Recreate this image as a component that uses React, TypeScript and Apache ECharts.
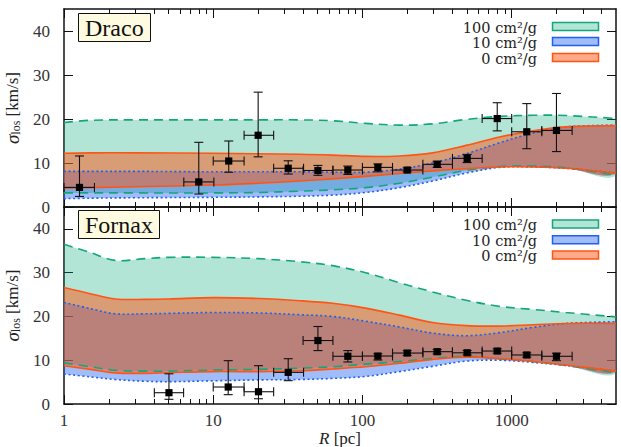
import React, { useEffect, useRef } from 'react';
import * as echarts from 'echarts';

const FONT = '"Liberation Serif", "DejaVu Serif", serif';
const LEGEND_FONT = '"DejaVu Serif", "Liberation Serif", serif';

// ---------- Data ----------
// Radius grid for the model bands [pc]
const R_DRACO = [1, 1.5, 3, 10, 20, 38, 63, 105, 177, 295, 495, 830, 1390, 2300, 5000];
const DRACO_100_LO = [3.2, 3.2, 3.2, 3.2, 3.3, 3.6, 3.9, 4.4, 5.4, 6.8, 8.3, 9.2, 9.3, 8.9, 7.2];
const DRACO_100_HI = [19.2, 19.7, 19.8, 19.8, 19.8, 19.8, 19.6, 19.0, 18.6, 18.9, 19.9, 20.6, 20.85, 20.8, 20.1];
const DRACO_10_LO = [1.9, 2.0, 2.1, 2.2, 2.3, 2.45, 2.7, 3.3, 4.4, 5.9, 7.7, 9.0, 9.1, 8.8, 7.7];
const DRACO_10_HI = [8.1, 8.1, 8.1, 8.0, 8.0, 8.0, 7.9, 7.9, 8.6, 10.0, 12.1, 14.6, 16.8, 18.2, 18.6];
const DRACO_0_LO = [4.3, 4.4, 4.6, 5.0, 5.4, 5.9, 6.4, 6.95, 7.6, 8.2, 8.7, 9.1, 9.1, 8.8, 7.7];
const DRACO_0_HI = [12.2, 12.3, 12.3, 12.2, 12.1, 12.0, 11.8, 11.5, 11.6, 12.3, 14.0, 15.9, 17.3, 18.2, 18.5];

const R_FORNAX = [1, 1.5, 2.2, 3.5, 5, 10, 20, 38, 63, 105, 177, 295, 495, 830, 1390, 2300, 5000];
const FORNAX_100_LO = [9.4, 8.5, 7.7, 7.5, 7.5, 7.75, 7.9, 8.2, 8.5, 9.1, 9.7, 10.4, 10.9, 10.3, 9.7, 8.8, 7.1];
const FORNAX_100_HI = [36.5, 34.6, 32.8, 33.2, 33.5, 33.5, 33.2, 32.5, 31.6, 30.0, 27.7, 25.6, 23.7, 22.3, 21.6, 20.9, 19.9];
const FORNAX_10_LO = [6.85, 6.2, 5.6, 5.2, 5.1, 5.3, 5.5, 5.6, 5.85, 6.3, 7.4, 8.6, 9.8, 10.0, 9.5, 8.8, 7.5];
const FORNAX_10_HI = [23.2, 21.8, 20.6, 20.6, 20.7, 20.9, 20.8, 20.4, 20.0, 18.9, 17.6, 16.2, 15.6, 16.3, 17.5, 18.4, 18.8];
const FORNAX_0_LO = [8.75, 7.9, 7.1, 7.0, 7.15, 7.4, 7.4, 7.6, 8.0, 8.5, 9.3, 10.2, 10.7, 10.4, 9.7, 8.9, 7.5];
const FORNAX_0_HI = [26.6, 25.2, 24.0, 23.9, 24.0, 24.3, 24.1, 23.6, 23.0, 21.9, 20.3, 18.6, 17.9, 17.8, 18.1, 18.4, 18.4];

// Binned data: [R, R_lo, R_hi, sigma, sigma_lo, sigma_hi]
const DRACO_POINTS = [
  [1.27, 1.0, 1.6, 4.45, 2.4, 11.6],
  [8.0, 6.35, 10.1, 5.7, 2.95, 14.7],
  [12.7, 10.0, 16.1, 10.45, 7.9, 15.0],
  [20.0, 16.1, 25.4, 16.3, 11.4, 26.1],
  [31.8, 25.4, 40.3, 8.8, 7.5, 10.5],
  [50.3, 40.0, 63.4, 8.3, 7.2, 9.45],
  [79.8, 63.4, 100, 8.4, 7.4, 9.3],
  [126.8, 100, 159, 9.0, 8.0, 9.8],
  [199.5, 159, 254, 8.4, 8.0, 8.9],
  [316.7, 254, 401, 9.7, 9.0, 10.4],
  [503, 401, 634, 11.05, 10.1, 11.95],
  [800, 634, 1000, 20.1, 17.3, 23.7],
  [1262, 1000, 1591, 17.1, 13.25, 23.5],
  [1995, 1591, 2541, 17.4, 12.6, 25.8],
];
const FORNAX_POINTS = [
  [5.05, 4.03, 6.33, 2.58, 1.07, 6.9],
  [12.6, 10.0, 16.1, 3.88, 2.13, 9.9],
  [20.1, 16.1, 25.4, 2.8, 1.2, 8.75],
  [31.8, 25.4, 40.3, 7.23, 5.33, 10.35],
  [50.3, 40.0, 63.4, 14.5, 12.2, 17.7],
  [79.8, 63.4, 100, 10.9, 9.6, 12.2],
  [126.8, 100, 159, 10.96, 10.05, 11.5],
  [199.5, 159, 254, 11.64, 11.1, 12.2],
  [316.7, 254, 401, 11.95, 11.45, 12.45],
  [503, 401, 634, 11.7, 11.2, 12.2],
  [800, 634, 1000, 12.1, 11.6, 12.6],
  [1262, 1000, 1591, 11.2, 10.7, 11.7],
  [1995, 1591, 2541, 10.9, 9.9, 11.6],
];

const X_MAJOR = [1, 10, 100, 1000];
const Y_TICKS = [0, 10, 20, 30, 40];
const LEGEND_LABELS = ['100 cm²/g', '10 cm²/g', '0 cm²/g'];
const PANEL_NAMES = ['Draco', 'Fornax'];

// ---------- Styles ----------
const GREEN = { fill: 'rgba(0,170,120,0.3)', line: '#14a67a', dash: [9, 6] as any };
const BLUE = { fill: 'rgba(20,90,240,0.4)', line: '#1f60f2', dash: [2, 2.6] as any };
const ORANGE = { fill: 'rgba(255,85,20,0.5)', line: '#ff5514', dash: null as any };
const STYLES = [GREEN, BLUE, ORANGE];

const SMOOTH = 0.35;

function xAxis(gridIndex: number, position: string, labels: boolean) {
  return {
    type: 'log',
    logBase: 10,
    gridIndex,
    position,
    min: 1,
    max: 5000,
    axisLine: { show: true, onZero: false, lineStyle: { color: '#111', width: 1.5 } },
    axisTick: { show: true, inside: true, length: 9, customValues: X_MAJOR, lineStyle: { color: '#111', width: 1 } },
    minorTick: { show: true, splitNumber: 9, length: 5, lineStyle: { color: '#111', width: 1 } },
    axisLabel: {
      show: labels,
      customValues: X_MAJOR,
      formatter: (v: number) => String(v),
      fontFamily: FONT,
      fontSize: 17,
      color: '#333',
      margin: 8,
    },
    splitLine: { show: false },
    minorSplitLine: { show: false },
    name: labels ? '{i|R} [pc]' : '',
    nameLocation: 'middle',
    nameGap: 24,
    nameTextStyle: {
      fontFamily: FONT,
      fontSize: 17,
      lineHeight: 18,
      color: '#222',
      rich: { i: { fontFamily: FONT, fontSize: 17, lineHeight: 18, fontStyle: 'italic', color: '#222' } },
    },
  };
}

function yAxis(gridIndex: number, position: string, labels: boolean) {
  return {
    type: 'value',
    gridIndex,
    position,
    min: 0,
    max: 45,
    axisLine: { show: true, onZero: false, lineStyle: { color: '#111', width: 1.5 } },
    axisTick: { show: true, inside: true, length: 9, customValues: Y_TICKS, lineStyle: { color: '#111', width: 1 } },
    axisLabel: { show: labels, customValues: Y_TICKS, fontFamily: FONT, fontSize: 17, color: '#333', margin: 14 },
    splitLine: { show: false },
    name: labels ? '{s|σ}{sub|los} [km/s]' : '',
    nameLocation: 'middle',
    nameGap: 33,
    nameTextStyle: {
      fontFamily: FONT,
      fontSize: 17,
      color: '#222',
      rich: {
        s: { fontFamily: FONT, fontSize: 19, fontStyle: 'italic', color: '#222' },
        sub: { fontFamily: FONT, fontSize: 12, color: '#222', verticalAlign: 'bottom' },
      },
    },
  };
}

// One custom series per panel draws the three model bands (fills, then edges).
function bandsSeries(xi: number, yi: number, rows: number[][], name: string) {
  return {
    type: 'custom',
    name,
    xAxisIndex: xi,
    yAxisIndex: yi,
    clip: true,
    silent: true,
    z: 2,
    data: rows,
    encode: { x: 0, y: [1, 2, 3, 4, 5, 6] },
    renderItem: (params: any, api: any) => {
      if (params.dataIndexInside !== 0) return null;
      const n = params.dataInsideLength;
      const edge = (dim: number) => {
        const pts: number[][] = [];
        for (let j = 0; j < n; j++) pts.push(api.coord([api.value(0, j), api.value(dim, j)]));
        return pts;
      };
      const fills: any[] = [];
      const lines: any[] = [];
      STYLES.forEach((st, bi) => {
        const lo = edge(1 + 2 * bi);
        const hi = edge(2 + 2 * bi);
        const loRev = lo.slice().reverse();
        const poly = [...hi, hi[n - 1], ...loRev, lo[0], hi[0]];
        fills.push({ type: 'polygon', shape: { points: poly, smooth: SMOOTH }, style: { fill: st.fill } });
        [lo, hi].forEach((pts) => {
          lines.push({
            type: 'polyline',
            shape: { points: pts, smooth: SMOOTH },
            style: { fill: null, stroke: st.line, lineWidth: 1.6, lineDash: st.dash },
          });
        });
      });
      return { type: 'group', children: [...fills, ...lines] };
    },
  };
}

function pointsSeries(xi: number, yi: number, pts: number[][], name: string) {
  return {
    type: 'custom', name, xAxisIndex: xi, yAxisIndex: yi, z: 5, silent: true,
    data: pts,
    encode: { x: 0, y: 3 },
    renderItem: (_p: any, api: any) => {
      const R = api.value(0), Rlo = api.value(1), Rhi = api.value(2);
      const s = api.value(3), slo = api.value(4), shi = api.value(5);
      const c = api.coord([R, s]);
      const l = api.coord([Rlo, s]);
      const r = api.coord([Rhi, s]);
      const t = api.coord([R, shi]);
      const b = api.coord([R, slo]);
      const cap = 4.5, half = 3.6;
      const st = { stroke: '#111', lineWidth: 1.1 };
      return {
        type: 'group',
        children: [
          { type: 'line', shape: { x1: l[0], y1: c[1], x2: r[0], y2: c[1] }, style: st },
          { type: 'line', shape: { x1: l[0], y1: c[1] - cap, x2: l[0], y2: c[1] + cap }, style: st },
          { type: 'line', shape: { x1: r[0], y1: c[1] - cap, x2: r[0], y2: c[1] + cap }, style: st },
          { type: 'line', shape: { x1: c[0], y1: t[1], x2: c[0], y2: b[1] }, style: st },
          { type: 'line', shape: { x1: c[0] - cap, y1: t[1], x2: c[0] + cap, y2: t[1] }, style: st },
          { type: 'line', shape: { x1: c[0] - cap, y1: b[1], x2: c[0] + cap, y2: b[1] }, style: st },
          { type: 'rect', shape: { x: c[0] - half, y: c[1] - half, width: 2 * half, height: 2 * half }, style: { fill: '#000' } },
        ],
      };
    },
  };
}

function legendGraphics(rowCenters: number[]) {
  const els: any[] = [];
  LEGEND_LABELS.forEach((lab, i) => {
    const cy = rowCenters[i];
    const st = STYLES[i];
    els.push({
      type: 'text', x: 537, y: cy + 1, z: 100,
      style: {
        text: lab,
        fill: '#222',
        fontFamily: LEGEND_FONT,
        fontSize: 14.5,
        lineHeight: 14,
        align: 'right',
        verticalAlign: 'middle',
        textAlign: 'right',
        textVerticalAlign: 'middle',
      },
    });
    els.push({
      type: 'rect', z: 100,
      shape: { x: 552.5, y: cy - 4, width: 46, height: 8 },
      style: { fill: st.fill, stroke: st.line, lineWidth: 1.5 },
    });
  });
  return els;
}

export default function App() {
  const ref = useRef<HTMLDivElement>(null);
  useEffect(() => {
    if (!ref.current) return;
    const chart = echarts.init(ref.current, null, { renderer: 'svg' });

    const dracoRows = R_DRACO.map((r, i) => [r, DRACO_100_LO[i], DRACO_100_HI[i], DRACO_10_LO[i], DRACO_10_HI[i], DRACO_0_LO[i], DRACO_0_HI[i]]);
    const fornaxRows = R_FORNAX.map((r, i) => [r, FORNAX_100_LO[i], FORNAX_100_HI[i], FORNAX_10_LO[i], FORNAX_10_HI[i], FORNAX_0_LO[i], FORNAX_0_HI[i]]);

    const series: any[] = [
      bandsSeries(0, 0, dracoRows, 'Draco models'),
      pointsSeries(0, 0, DRACO_POINTS, 'Draco data'),
      bandsSeries(2, 2, fornaxRows, 'Fornax models'),
      pointsSeries(2, 2, FORNAX_POINTS, 'Fornax data'),
    ];

    const titleStyle = { fontFamily: FONT, fontSize: 24, fontWeight: 'normal', color: '#111' };
    const option: any = {
      animation: false,
      backgroundColor: '#fff',
      title: [
        { text: PANEL_NAMES[0], left: 78, top: 13, backgroundColor: '#fffbe0', borderColor: '#111', borderWidth: 1, padding: [3, 7, 2, 7], textStyle: titleStyle },
        { text: PANEL_NAMES[1], left: 78, top: 210, backgroundColor: '#fffbe0', borderColor: '#111', borderWidth: 1, padding: [3, 7, 2, 7], textStyle: titleStyle },
      ],
      grid: [
        { left: 64, right: 5, top: 9, height: 198, outerBoundsMode: 'none', containLabel: false },
        { left: 64, right: 5, top: 207, height: 197, outerBoundsMode: 'none', containLabel: false },
      ],
      xAxis: [xAxis(0, 'bottom', false), xAxis(0, 'top', false), xAxis(1, 'bottom', true), xAxis(1, 'top', false)],
      yAxis: [yAxis(0, 'left', true), yAxis(0, 'right', false), yAxis(1, 'left', true), yAxis(1, 'right', false)],
      graphic: [...legendGraphics([26.5, 41.5, 57.5]), ...legendGraphics([224, 239.7, 255])],
      series,
    };
    chart.setOption(option);
    return () => chart.dispose();
  }, []);
  return <div ref={ref} style={{ position: 'fixed', left: 0, top: 0, width: 621, height: 447, background: '#fff' }} />;
}
